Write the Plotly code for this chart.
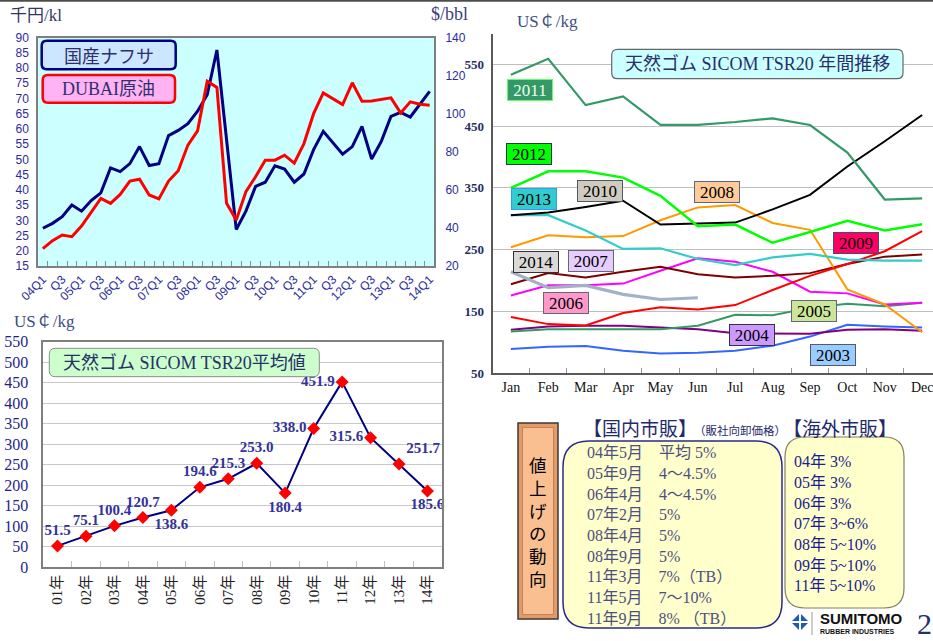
import plotly.graph_objects as go

W, H = 933, 641

SERIF = "Liberation Serif, Noto Sans CJK JP"
SANS = "Liberation Sans, Noto Sans CJK JP"
GOTHIC = "Noto Sans CJK JP"
NAVY_TXT = "#26306B"
TICK_BLUE = "#2B2B9E"

# ── data: naphtha (千円/kl, left) vs Dubai crude ($/bbl, right), 04Q1–14Q1 ─────
QUARTER_TICKS = ["04Q1", "Q3", "05Q1", "Q3", "06Q1", "Q3", "07Q1", "Q3", "08Q1", "Q3",
                 "09Q1", "Q3", "10Q1", "Q3", "11Q1", "Q3", "12Q1", "Q3", "13Q1", "Q3", "14Q1"]
NAPHTHA = [27.4, 29.0, 31.2, 35.0, 33.0, 36.5, 39.0, 47.2, 46.0, 48.6,
           54.2, 48.0, 48.6, 57.8, 59.5, 61.7, 65.8, 71.2, 85.9, 57.0,
           27.0, 33.0, 41.1, 42.5, 47.9, 46.8, 42.5, 45.2, 53.2, 59.2,
           55.4, 51.7, 54.2, 60.8, 50.1, 55.9, 64.1, 65.4, 63.9, 68.0, 72.3]
DUBAI = [29.1, 33.3, 36.3, 35.4, 41.0, 48.5, 55.5, 52.9, 57.6, 64.6,
         65.6, 57.3, 55.2, 64.6, 70.0, 83.5, 91.0, 117.0, 113.8, 52.9,
         44.1, 59.0, 66.9, 75.6, 75.6, 78.2, 74.0, 84.3, 100.0, 110.9,
         108.0, 104.8, 116.2, 106.5, 106.7, 107.4, 108.3, 100.4, 106.2, 105.0, 104.4]

# ── data: SICOM TSR20 annual average (US¢/kg) ────────────────────────────────
YEARS = ["01年", "02年", "03年", "04年", "05年", "06年", "07年",
         "08年", "09年", "10年", "11年", "12年", "13年", "14年"]
SICOM_AVG = [51.5, 75.1, 100.4, 120.7, 138.6, 194.6, 215.3,
             253.0, 180.4, 338.0, 451.9, 315.6, 251.7, 185.6]

# ── data: SICOM TSR20 monthly, by year (US¢/kg) ──────────────────────────────
MONTHS = ["Jan", "Feb", "Mar", "Apr", "May", "Jun",
          "Jul", "Aug", "Sep", "Oct", "Nov", "Dec"]
TSR_2003 = [89, 92.6, 93.8, 86, 81.7, 82.8, 86, 94.3, 109, 128.2, 125.4, 123.8]
TSR_2004 = [120, 125.4, 126.5, 126.5, 123.8, 121, 114.5, 113.4, 113.4, 120, 121, 118.3]
TSR_2005 = [117.2, 121, 121, 121, 121, 126.5, 144.5, 143.5, 155.5, 162, 158, 163.7]
TSR_2006 = [175.7, 192, 192, 194.8, 215.6, 235.8, 230.3, 214, 181.7, 179, 161, 163.7]
TSR_2007 = [193.7, 211.8, 204.6, 214, 222, 210, 204.6, 207.4, 211.8, 226.5, 238.5, 241.8]
TSR_2008 = [253.8, 273, 270, 271.8, 297.5, 318.3, 322, 293, 282, 185.5, 161, 116]
TSR_2009 = [140.7, 129.2, 127, 147.3, 156.6, 152.7, 160, 184.4, 207.4, 226.5, 247.3, 280]
TSR_2010 = [305.7, 310, 319, 329, 290.4, 291.5, 293.7, 315, 338.5, 384.5, 425.5, 468]
TSR_2011 = [533, 559, 484, 498, 452, 452, 456.6, 462.6, 451.7, 407, 331, 333]
TSR_2012 = [350, 376.8, 376.8, 366.5, 337, 287.7, 290.4, 261, 278.4, 296.4, 281, 291]
TSR_2013 = [305.7, 305.7, 281, 251, 252, 234.7, 224.9, 237.4, 243, 233.6, 232, 232]
TSR_2014 = [214, 188.3, 192, 177.3, 169.1, 171.9]

# ── text panel ────────────────────────────────────────────────────────────────
DOMESTIC_HIKES = ["04年5月　平均 5%", "05年9月　4〜4.5%", "06年4月　4〜4.5%",
                  "07年2月　5%", "08年4月　5%", "08年9月　5%",
                  "11年3月　7%（TB）", "11年5月　7〜10%", "11年9月　8% （TB）"]
OVERSEAS_HIKES = ["04年 3%", "05年 3%", "06年 3%", "07年 3~6%",
                  "08年 5~10%", "09年 5~10%", "11年 5~10%"]


# ── pixel helpers (figure is laid out in page pixels) ─────────────────────────

def px(x):
    return x / W


def py(y):
    return 1 - y / H


def P(x, y):
    return f"{px(x):.5f},{py(y):.5f}"


def rounded(x0, y0, x1, y1, r, fill, line, lw=1.0):
    d = (f"M{P(x0 + r, y0)} L{P(x1 - r, y0)} Q{P(x1, y0)} {P(x1, y0 + r)} "
         f"L{P(x1, y1 - r)} Q{P(x1, y1)} {P(x1 - r, y1)} L{P(x0 + r, y1)} "
         f"Q{P(x0, y1)} {P(x0, y1 - r)} L{P(x0, y0 + r)} Q{P(x0, y0)} {P(x0 + r, y0)} Z")
    return dict(type="path", xref="paper", yref="paper", path=d,
                fillcolor=fill, line=dict(color=line, width=lw), layer="above")


def rect(x0, y0, x1, y1, fill, line=None, lw=0, layer="above"):
    return dict(type="rect", xref="paper", yref="paper",
                x0=px(x0), x1=px(x1), y0=py(y1), y1=py(y0),
                fillcolor=fill, line=dict(color=line or fill, width=lw), layer=layer)


def seg(x0, y0, x1, y1, color, lw=1):
    return dict(type="line", xref="paper", yref="paper",
                x0=px(x0), x1=px(x1), y0=py(y0), y1=py(y1),
                line=dict(color=color, width=lw), layer="above")


def text(x, y, s, size, color, family=SERIF, xanchor="center", weight="normal", **kw):
    return dict(x=px(x), y=py(y), xref="paper", yref="paper", text=s,
                showarrow=False, xanchor=xanchor, yanchor="middle",
                font=dict(size=size, color=color, family=family, weight=weight), **kw)


fig = go.Figure()

# ── 1. naphtha / Dubai ────────────────────────────────────────────────────────
qx = list(range(len(NAPHTHA)))
fig.add_trace(go.Scatter(x=qx, y=NAPHTHA, mode="lines", xaxis="x", yaxis="y",
                         line=dict(color="#000080", width=3), showlegend=False))
fig.add_trace(go.Scatter(x=qx, y=DUBAI, mode="lines", xaxis="x", yaxis="y2",
                         line=dict(color="#FF0000", width=3), showlegend=False))

# ── 2. annual average ─────────────────────────────────────────────────────────
label_pos = ["top center", "top center", "top center", "top center", "bottom center",
             "top center", "top center", "top center", "bottom center", "middle left",
             "middle left", "middle left", "top right", "bottom center"]
fig.add_trace(go.Scatter(
    x=YEARS, y=SICOM_AVG, mode="lines+markers+text", xaxis="x2", yaxis="y3",
    line=dict(color="#000080", width=2),
    marker=dict(symbol="diamond", size=10, color="#FF0000"),
    texttemplate="%{y:.1f}", textposition=label_pos, cliponaxis=False,
    textfont=dict(family=SERIF, size=15, color="#333399", weight="bold"),
    showlegend=False,
))

# ── 3. monthly by year ────────────────────────────────────────────────────────
monthly = [
    (TSR_2003, "#3366FF", 2), (TSR_2004, "#800080", 2), (TSR_2005, "#339966", 2),
    (TSR_2006, "#FF00FF", 2), (TSR_2007, "#800000", 2), (TSR_2008, "#FF9900", 2),
    (TSR_2009, "#FF0000", 2), (TSR_2013, "#33CCCC", 2.2), (TSR_2010, "#000000", 2),
    (TSR_2011, "#339966", 2.2), (TSR_2012, "#00FF00", 2.5), (TSR_2014, "#A3B1C6", 3.2),
]
for vals, color, lw in monthly:
    fig.add_trace(go.Scatter(x=MONTHS[:len(vals)], y=vals, mode="lines",
                             xaxis="x3", yaxis="y4",
                             line=dict(color=color, width=lw), showlegend=False))

# ── shapes ────────────────────────────────────────────────────────────────────
shapes = [
    rect(38, 37.5, 434, 266, "#CCFFFF", layer="below"),
    seg(0, 0.8, W, 0.8, "#4D4D4D", 2),
    rounded(41.7, 40.7, 175.7, 69.3, 5, "#CCE6FF", "#000080", 2.5),
    rounded(42.7, 75, 175, 102.7, 5, "#FFB3F2", "#FF0000", 2.5),
    rounded(49.3, 348.3, 319.3, 376.7, 6, "#CCFFCC", "#8C8C8C", 1),
    rounded(611.7, 49.3, 903, 78.7, 6, "#CCFFFF", "#666666", 1.2),
    # 値上げの動向 box
    rect(518, 423, 558, 619, "#E39A66", "#3A3A3A", 1.5),
    rect(522.5, 427.5, 553.5, 614.5, "#F9BF91", "#B9784C", 0.8),
    rounded(563, 441, 782, 628, 26, "#FFFFCC", "#2A2A8A", 1.5),
    rounded(785, 437, 904, 608, 20, "#FFFFCC", "#857F5E", 1.2),
    # logo
    dict(type="path", xref="paper", yref="paper",
         path=f"M{P(800, 613)} L{P(809, 622)} L{P(800, 631)} L{P(791, 622)} Z",
         fillcolor="#1E5BB8", line=dict(width=0), layer="above"),
    seg(791, 622, 809, 622, "#FFFFFF", 2),
    seg(800, 613, 800, 631, "#FFFFFF", 2),
    seg(812, 612, 812, 635, "#999999", 1),
]

# ── annotations ───────────────────────────────────────────────────────────────
anns = [
    text(8, 15, "千円/kl", 17, "#333366", xanchor="left"),
    text(429, 14, "$/bbl", 18, "#3D3D80", xanchor="left"),
    text(108.7, 55, "国産ナフサ", 18, "#2F2F6F", family=GOTHIC),
    text(108.8, 89, "DUBAI原油", 18, "#2F2F6F"),
    text(12, 322, "US￠/kg", 17, "#3D4D80", xanchor="left"),
    text(184.3, 362.5, "天然ゴム SICOM TSR20平均値", 18, NAVY_TXT),
    text(515, 21, "US￠/kg", 17, "#3D4D80", xanchor="left"),
    text(757.3, 64, "天然ゴム SICOM TSR20 年間推移", 18, NAVY_TXT),
]

year_boxes = [
    ("2011", 530.3, 90.5, "#339966", "#66FF66", "#F0FFF0"),
    ("2012", 529.3, 154.5, "#00FF00", "#333355", "#000000"),
    ("2013", 534.0, 198.7, "#33CCCC", "#3399FF", "#000000"),
    ("2010", 599.5, 190.5, "#CFCBBE", "#555566", "#000000"),
    ("2008", 716.7, 192.0, "#FFCC99", "#556688", "#000000"),
    ("2009", 856.2, 243.3, "#FF0066", "#4B4B6B", "#000000"),
    ("2014", 535.5, 261.7, "#D9D9D9", "#333333", "#000000"),
    ("2007", 590.8, 261.3, "#E6CCFF", "#666677", "#000000"),
    ("2006", 565.8, 303.3, "#FF99CC", "#666677", "#000000"),
    ("2005", 813.5, 310.5, "#CCE699", "#666677", "#000000"),
    ("2004", 751.8, 335.3, "#CC99FF", "#333344", "#000000"),
    ("2003", 833.2, 355.2, "#99CCFF", "#555577", "#000000"),
]
for yr, cx, cy, fill, border, fc in year_boxes:
    anns.append(text(cx, cy, yr, 17, fc, width=42, height=18, bgcolor=fill,
                     bordercolor=border, borderwidth=1, borderpad=1))

# bottom-right panel
anns += [
    text(538.3, 521, "<br>".join("値上げの動向"), 17.5, "#000000", family=GOTHIC),
    text(640, 427, "【国内市販】", 19, "#1F2A6B", family=GOTHIC),
    text(740, 429.5, "（販社向卸価格）", 11.5, "#1F2A6B", family=GOTHIC),
    text(839.5, 427, "【海外市販】", 19, "#1F2A6B", family=GOTHIC),
]
for k, s in enumerate(DOMESTIC_HIKES):
    anns.append(text(585, 452.7 + 20.7 * k, s, 16, "#4D5080", xanchor="left"))
for k, s in enumerate(OVERSEAS_HIKES):
    anns.append(text(792, 461.7 + 20.7 * k, s, 16, "#1C1C8C", xanchor="left"))
anns += [
    text(818, 618.5, "SUMITOMO", 15, "#111111", family=SANS,
         xanchor="left", weight="bold"),
    text(818, 631, "RUBBER INDUSTRIES", 7, "#111111",
         family=SANS, xanchor="left", weight="bold"),
    text(915, 623, "2", 30, "#1F2F6F", xanchor="left"),
]

# ── layout ────────────────────────────────────────────────────────────────────
border = dict(showline=True, linecolor="#7F7F7F", linewidth=1.5, zeroline=False)

fig.update_layout(
    width=W, height=H, margin=dict(l=0, r=0, t=0, b=0, autoexpand=False),
    paper_bgcolor="#FFFFFF", plot_bgcolor="rgba(0,0,0,0)",
    showlegend=False, shapes=shapes, annotations=anns,
    # chart 1
    xaxis=dict(domain=[px(38), px(434)], anchor="y", range=[-0.5, 40.45],
               tickvals=list(range(0, len(NAPHTHA), 2)), ticktext=QUARTER_TICKS,
               tickangle=-45, ticks="inside", ticklen=0, showgrid=False, mirror=True,
               tickfont=dict(family=SANS, size=12, color=TICK_BLUE),
               minor=dict(tick0=0.5, dtick=1, ticks="inside", ticklen=5,
                          tickcolor="#8C8C8C", showgrid=False),
               **border),
    yaxis=dict(domain=[py(266), py(37.5)], anchor="x", range=[15, 90], dtick=5,
               showgrid=False, mirror=True, ticks="outside", ticklen=5,
               tickcolor="rgba(0,0,0,0)",
               tickfont=dict(family=SANS, size=12, color=TICK_BLUE), **border),
    yaxis2=dict(overlaying="y", side="right", anchor="x", range=[20, 140], dtick=20,
                showgrid=False, showline=False, zeroline=False, ticks="outside",
                ticklen=8, tickcolor="rgba(0,0,0,0)",
                tickfont=dict(family=SANS, size=12, color=TICK_BLUE)),
    # chart 2
    xaxis2=dict(domain=[px(43.3), px(441.7)], anchor="y3", type="category",
                range=[-0.5, 13.5], dtick=1, tickangle=-90, tickson="boundaries",
                ticks="inside", ticklen=6, tickcolor="#BFBFBF", showgrid=False, mirror=True,
                tickfont=dict(family=SERIF, size=15, color="#222222"), **border),
    yaxis3=dict(domain=[py(567), py(341.7)], anchor="x2", range=[0, 550], dtick=50,
                showgrid=True, gridcolor="#C8C8C8", mirror=True, ticks="outside",
                ticklen=10, tickcolor="rgba(0,0,0,0)",
                tickfont=dict(family=SERIF, size=16, color="#1F1F8C"), **border),
    # chart 3
    xaxis3=dict(domain=[px(493.3), 1.0], anchor="y4", type="category",
                range=[-0.47, 11.29], dtick=1, tickangle=0, tickson="boundaries",
                ticks="inside", ticklen=5, tickcolor="#999999", showgrid=False,
                showline=True, linecolor="#595959", linewidth=1.5, zeroline=False,
                tickfont=dict(family=SERIF, size=14, color="#111111")),
    yaxis4=dict(domain=[py(373), py(33.5)], anchor="x3", range=[50, 600],
                tickvals=[50, 150, 250, 350, 450, 550], showgrid=True,
                gridcolor="#BFBFBF", showline=True, linecolor="#595959", linewidth=1.5,
                zeroline=False, ticks="outside", ticklen=5, tickcolor="rgba(0,0,0,0)",
                tickfont=dict(family=SERIF, size=13, color="#1F2F5F", weight="bold")),
)

fig.write_html("out.html", config={"displayModeBar": False},
               post_script="document.body.style.margin='0px';")
